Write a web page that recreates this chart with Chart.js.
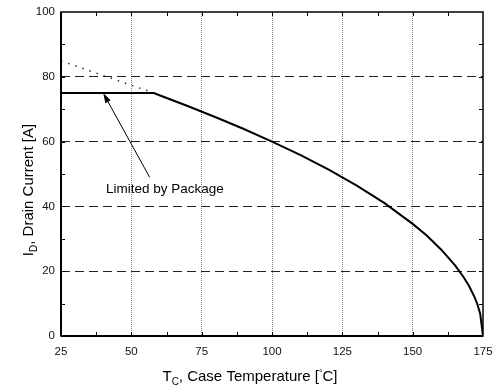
<!DOCTYPE html>
<html>
<head>
<meta charset="utf-8">
<script src="https://cdn.jsdelivr.net/npm/chart.js@4/dist/chart.umd.min.js"></script>
<style>
  html, body { margin: 0; background: #fff; }
  canvas { display: block; }
</style>
</head>
<body>
<canvas id="derating" width="496" height="390"></canvas>
<script>
// max continuous drain current vs case temperature
const caseTemp     = [25, 58, 60, 70, 80, 90, 100, 110, 120, 130, 140, 150, 155, 160, 165, 168, 170, 172, 173, 174, 175];
const drainCurrent = [75, 75, 74.3, 71.0, 67.5, 63.9, 60.0, 55.9, 51.4, 46.5, 41.0, 34.6, 31.0, 26.8, 21.9, 18.3, 15.5, 12.0, 9.8, 6.9, 0];
// silicon limit above the package limit (dotted)
const siliconTemp    = [25, 58];
const siliconCurrent = [84.9, 75];

const tempTicks    = [25, 50, 75, 100, 125, 150, 175];
const currentTicks = [0, 20, 40, 60, 80, 100];

const FONT = '"Liberation Sans", Arial, sans-serif';

const toPoints = (xs, ys) => xs.map((v, i) => ({ x: v, y: ys[i] }));

// draws a run of text pieces, some of them sub/superscripted
function richText(ctx, parts, x, y) {
  let w = 0;
  for (const p of parts) {
    ctx.font = `${p.size}px ${FONT}`;
    w += ctx.measureText(p.t).width;
  }
  let cx = x - w / 2;
  for (const p of parts) {
    ctx.font = `${p.size}px ${FONT}`;
    ctx.fillText(p.t, cx, y + (p.dy || 0));
    cx += ctx.measureText(p.t).width;
  }
}

const frame = {
  id: 'frame',
  afterDatasetsDraw(chart) {
    const { ctx, chartArea: a, scales: { x, y } } = chart;
    ctx.save();
    ctx.strokeStyle = '#000';
    ctx.lineWidth = 1;
    ctx.beginPath();
    for (let t = 25 + 12.5; t < 175; t += 12.5) {
      const px = Math.round(x.getPixelForValue(t)) + 0.5;
      ctx.moveTo(px, a.bottom); ctx.lineTo(px, a.bottom - 4);
      ctx.moveTo(px, a.top);    ctx.lineTo(px, a.top + 4);
    }
    for (let v = 10; v < 100; v += 10) {
      const py = Math.round(y.getPixelForValue(v)) + 0.5;
      ctx.moveTo(a.left, py);  ctx.lineTo(a.left + 4, py);
      ctx.moveTo(a.right, py); ctx.lineTo(a.right - 4, py);
    }
    ctx.stroke();

    ctx.lineWidth = 1.5;
    ctx.strokeRect(a.left, a.top, a.right - a.left, a.bottom - a.top);
    ctx.lineWidth = 2;
    ctx.beginPath();
    ctx.moveTo(a.left, a.bottom); ctx.lineTo(a.right, a.bottom);
    ctx.moveTo(a.left, a.top); ctx.lineTo(a.left, a.bottom);
    ctx.stroke();
    ctx.restore();
  }
};

const note = {
  id: 'note',
  afterDatasetsDraw(chart) {
    const { ctx, scales: { x, y } } = chart;
    const tx = x.getPixelForValue(40),   ty = y.getPixelForValue(75);
    const sx = x.getPixelForValue(56.5), sy = y.getPixelForValue(49);
    const ang = Math.atan2(ty - sy, tx - sx);
    ctx.save();
    ctx.strokeStyle = '#000';
    ctx.fillStyle = '#000';
    ctx.lineWidth = 1;
    ctx.beginPath();
    ctx.moveTo(sx, sy);
    ctx.lineTo(tx - 8 * Math.cos(ang), ty - 8 * Math.sin(ang));
    ctx.stroke();
    ctx.beginPath();
    ctx.moveTo(tx, ty);
    ctx.lineTo(tx - 10 * Math.cos(ang) + 3 * Math.sin(ang), ty - 10 * Math.sin(ang) - 3 * Math.cos(ang));
    ctx.lineTo(tx - 10 * Math.cos(ang) - 3 * Math.sin(ang), ty - 10 * Math.sin(ang) + 3 * Math.cos(ang));
    ctx.closePath();
    ctx.fill();

    ctx.font = `13.5px ${FONT}`;
    ctx.textAlign = 'left';
    ctx.textBaseline = 'alphabetic';
    ctx.fillText('Limited by Package', 106, 193);
    ctx.restore();
  }
};

const axisTitles = {
  id: 'axisTitles',
  afterDraw(chart) {
    const { ctx } = chart;
    ctx.save();
    ctx.fillStyle = '#000';
    ctx.textAlign = 'left';
    ctx.textBaseline = 'alphabetic';
    richText(ctx, [
      { t: 'T', size: 15 }, { t: 'C', size: 10, dy: 4 },
      { t: ', Case Temperature [', size: 15 },
      { t: '°', size: 9, dy: -5 }, { t: 'C]', size: 15 }
    ], 250, 381);
    ctx.translate(33, 190);
    ctx.rotate(-Math.PI / 2);
    richText(ctx, [
      { t: 'I', size: 15 }, { t: 'D', size: 10, dy: 4 },
      { t: ', Drain Current [A]', size: 15 }
    ], 0, 0);
    ctx.restore();
  }
};

new Chart(document.getElementById('derating'), {
  type: 'scatter',
  data: {
    datasets: [
      {
        data: toPoints(caseTemp, drainCurrent),
        showLine: true,
        borderColor: '#000',
        borderWidth: 2,
        pointRadius: 0,
        tension: 0
      },
      {
        data: toPoints(siliconTemp, siliconCurrent),
        showLine: true,
        borderColor: '#333',
        borderWidth: 1.5,
        borderDash: [1.5, 6],
        pointRadius: 0
      }
    ]
  },
  options: {
    responsive: false,
    animation: false,
    layout: { padding: { top: 12, right: 13, left: 0, bottom: 0 } },
    plugins: { legend: { display: false }, tooltip: { enabled: false } },
    scales: {
      x: {
        type: 'linear',
        min: 25,
        max: 175,
        afterBuildTicks: s => { s.ticks = tempTicks.map(v => ({ value: v })); },
        afterFit: s => { s.height = 54; s.paddingRight = 0; s.paddingLeft = 0; },
        ticks: { color: '#111', padding: 9, font: { family: FONT, size: 11.5 } },
        grid: {
          drawTicks: false,
          color: c => (c.tick.value === 25 || c.tick.value === 175) ? 'rgba(0,0,0,0)' : '#888',
          lineWidth: 1
        },
        border: { display: false, dash: [1, 1] }
      },
      y: {
        min: 0,
        max: 100,
        afterBuildTicks: s => { s.ticks = currentTicks.map(v => ({ value: v })); },
        afterFit: s => { s.width = 61; s.paddingTop = 0; s.paddingBottom = 0; },
        ticks: { color: '#111', padding: 6, font: { family: FONT, size: 11.5 } },
        grid: {
          drawTicks: false,
          color: c => (c.tick.value === 0 || c.tick.value === 100) ? 'rgba(0,0,0,0)' : '#222',
          lineWidth: 1
        },
        border: { display: false, dash: [9, 5] }
      }
    }
  },
  plugins: [frame, note, axisTitles]
});
</script>
</body>
</html>
